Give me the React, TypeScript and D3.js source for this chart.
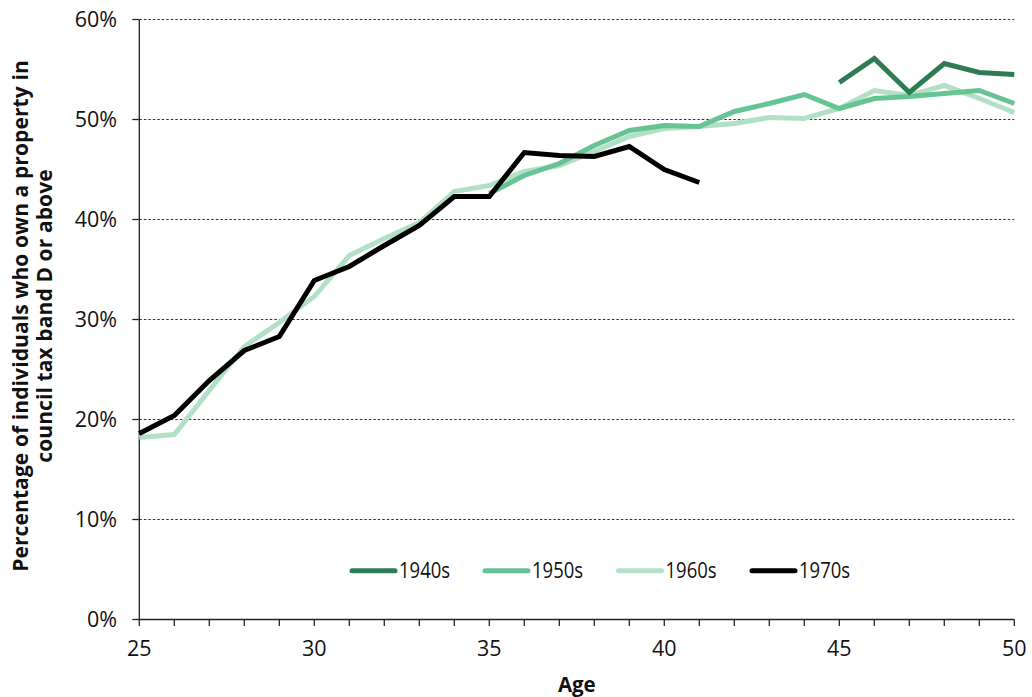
import React from "react";
import * as d3 from "d3";

const ages = d3.range(25, 51);
const seriesNames = ["1940s", "1950s", "1960s", "1970s"];
const seriesColors = ["#2e7d52", "#66c494", "#b2e0c6", "#000000"];
const seriesStart = [45, 35, 25, 25];

const values1940s = [53.7, 56.1, 52.7, 55.6, 54.7, 54.5];
const values1950s = [42.6, 44.4, 45.6, 47.4, 48.9, 49.4, 49.3, 50.8, 51.6, 52.5, 51.1, 52.1, 52.3, 52.6, 52.9, 51.6];
const values1960s = [18.2, 18.5, 22.9, 27.3, 29.7, 32.3, 36.4, 38.1, 39.7, 42.8, 43.4, 44.8, 45.4, 46.8, 48.3, 49.1, 49.3, 49.6, 50.2, 50.1, 51.1, 52.9, 52.4, 53.4, 52.1, 50.7];
const values1970s = [18.6, 20.4, 23.9, 26.9, 28.3, 33.9, 35.3, 37.4, 39.4, 42.3, 42.3, 46.7, 46.4, 46.3, 47.3, 45.0, 43.7];

const yTicks = [0, 10, 20, 30, 40, 50, 60];
const xTicks = [25, 30, 35, 40, 45, 50];
const xTitle = "Age";
const yTitleLines = ["Percentage of individuals who own a property in", "council tax band D or above"];

const allValues = [values1940s, values1950s, values1960s, values1970s];
const drawOrder = [2, 1, 0, 3];

const W = 1032;
const H = 697;
const FONT = "'Open Sans', 'Noto Sans', sans-serif";

export default function App() {
  const x = d3.scaleLinear().domain([25, 50]).range([139.3, 1014.3]);
  const y = d3.scaleLinear().domain([0, 60]).range([619.5, 19.5]);

  const line = d3
    .line<[number, number]>()
    .x((d) => x(d[0]))
    .y((d) => y(d[1]));

  const seriesPoints = allValues.map((vals, i) =>
    vals.map((v, j) => [seriesStart[i] + j, v] as [number, number])
  );

  const legendX = [352, 485, 618.5, 752];

  return (
    <div style={{ position: "absolute", left: 0, top: 0 }}>
      <svg width={W} height={H} style={{ display: "block", fontFamily: FONT }}>
        <rect width={W} height={H} fill="#ffffff" />
        {yTicks
          .filter((t) => t > 0)
          .map((t) => (
            <line
              key={"g" + t}
              x1={x(25)}
              x2={x(50)}
              y1={y(t)}
              y2={y(t)}
              stroke="#333"
              strokeWidth={1}
              strokeDasharray="2.5,2"
            />
          ))}
        <line x1={x(25)} x2={x(25)} y1={y(60)} y2={y(0)} stroke="#222" strokeWidth={1.3} />
        {yTicks.map((t) => (
          <g key={"y" + t}>
            <line x1={x(25) - 7} x2={x(25)} y1={y(t)} y2={y(t)} stroke="#222" strokeWidth={1.3} />
            <text x={117} y={y(t) + 7.8} textAnchor="end" fontSize={21.5} fill="#111">
              {t + "%"}
            </text>
          </g>
        ))}
        <line x1={x(25)} x2={x(50)} y1={y(0)} y2={y(0)} stroke="#222" strokeWidth={1.3} />
        {ages.map((a) => (
          <line key={"xt" + a} x1={x(a)} x2={x(a)} y1={y(0)} y2={y(0) + 6.5} stroke="#222" strokeWidth={1.3} />
        ))}
        {xTicks.map((t) => (
          <text key={"xl" + t} x={x(t)} y={656} textAnchor="middle" fontSize={21.5} fill="#111">
            {t}
          </text>
        ))}
        <text x={(x(25) + x(50)) / 2} y={692} textAnchor="middle" fontSize={20.5} fontWeight="bold" fill="#111">
          {xTitle}
        </text>
        <g transform="translate(28,316) rotate(-90)">
          <text x={0} y={0} textAnchor="middle" fontSize={21} fontWeight="bold" letterSpacing={0.1} fill="#111">
            {yTitleLines[0]}
          </text>
          <text x={0} y={23.5} textAnchor="middle" fontSize={21} fontWeight="bold" letterSpacing={0.1} fill="#111">
            {yTitleLines[1]}
          </text>
        </g>
        {drawOrder.map((i) => (
          <path
            key={"s" + i}
            d={line(seriesPoints[i]) || ""}
            fill="none"
            stroke={seriesColors[i]}
            strokeWidth={5}
            strokeLinejoin="miter"
          />
        ))}
        {seriesNames.map((n, i) => (
          <g key={"lg" + i}>
            <line
              x1={legendX[i]}
              x2={legendX[i] + 43}
              y1={570.7}
              y2={570.7}
              stroke={seriesColors[i]}
              strokeWidth={5}
              strokeLinecap="round"
            />
            <text
              x={legendX[i] + 47}
              y={578.5}
              fontSize={21.5}
              fill="#111"
              transform={`translate(${legendX[i] + 47},0) scale(0.86,1) translate(${-(legendX[i] + 47)},0)`}
            >
              {n}
            </text>
          </g>
        ))}
      </svg>
    </div>
  );
}
